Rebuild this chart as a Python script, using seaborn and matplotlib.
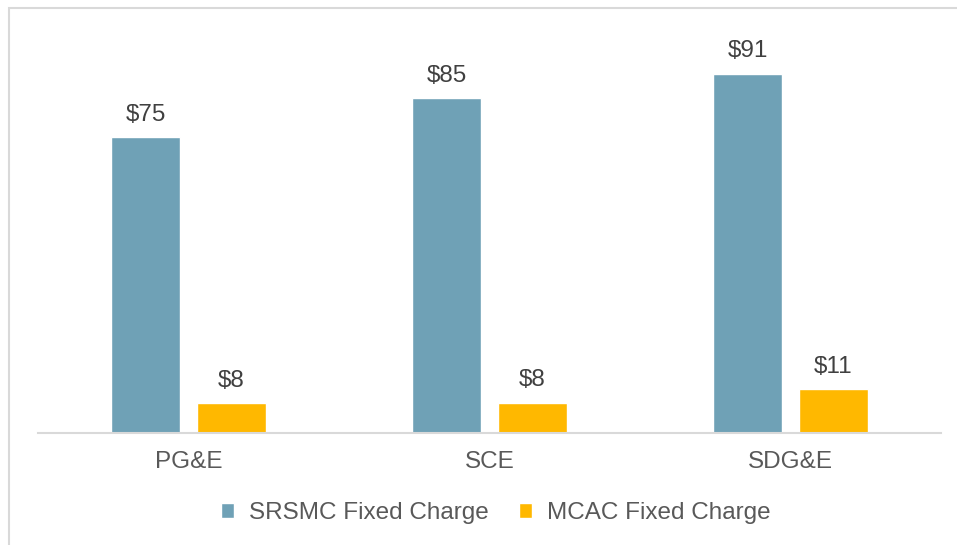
import pandas as pd
import matplotlib.pyplot as plt
import seaborn as sns
from matplotlib.patches import Rectangle

# data
utilities = ['PG&E', 'SCE', 'SDG&E']
srsmc = [75.0, 84.7, 91.0]
mcac = [7.5, 7.7, 11.2]
series = ['SRSMC Fixed Charge', 'MCAC Fixed Charge']

df = pd.DataFrame({
    'utility': utilities * 2,
    'charge': [series[0]] * 3 + [series[1]] * 3,
    'value': srsmc + mcac,
})

sns.set_theme(style='white')
plt.rcParams['font.family'] = ['Liberation Sans', 'DejaVu Sans']

fig = plt.figure(figsize=(9.57, 5.45), dpi=100)
ax = fig.add_axes([38 / 957, 1 - 433 / 545, (941 - 38) / 957, (433 - 38) / 545])

colors = ['#6FA1B6', '#FFB800']
sns.barplot(data=df, x='utility', y='value', hue='charge', palette=colors,
            width=0.57, gap=0.2, ax=ax, saturation=1)

ax.set_ylim(0, 100)
ax.set_xlim(-0.5, 2.5)
ax.set_xlabel('')
ax.set_ylabel('')
ax.set_yticks([])
for s in ['top', 'right', 'left']:
    ax.spines[s].set_visible(False)
ax.spines['bottom'].set_color('#D9D9D9')
ax.spines['bottom'].set_linewidth(1.5)
ax.tick_params(axis='x', length=0, pad=13, labelsize=17.5, labelcolor='#595959')

for cont in ax.containers:
    ax.bar_label(cont, labels=[f'${v:.0f}' for v in cont.datavalues],
                 padding=8, fontsize=17.5, color='#404040')

handles, labels = ax.get_legend_handles_labels()
ax.legend(handles, labels, loc='center',
          bbox_to_anchor=(0.5 + 6 / 903, (433 - 513) / (433 - 38)),
          ncol=2, frameon=False, fontsize=17.5, labelcolor='#595959',
          handlelength=0.55, handleheight=0.55, handletextpad=0.6, columnspacing=1.25)

# chart area border (top and left visible in the reference)
fig.patches.append(Rectangle((8.5 / 957, -0.1), 1.2, 1.1 - 8.5 / 545,
                             transform=fig.transFigure, fill=False,
                             edgecolor='#D9D9D9', linewidth=1.5))

fig.savefig('out.png', dpi=100)
